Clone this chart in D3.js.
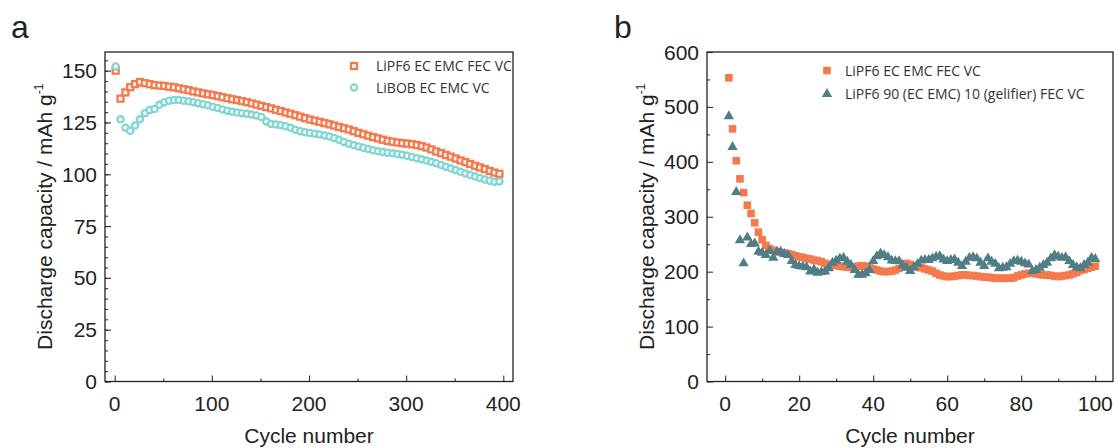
<!DOCTYPE html>
<html>
<head>
<meta charset="utf-8">
<script src="https://cdn.jsdelivr.net/npm/d3@7"></script>
<style>
  body { margin: 0; background: #fff; }
  svg text { font-family: "Liberation Sans", Arial, sans-serif; fill: #222; }
  .leg { font-family: "Open Sans", "Noto Sans", sans-serif; font-size: 14px; fill: #333; }
</style>
</head>
<body>
<svg id="chart" width="1117" height="448"></svg>
<script>
// panel a: cycles 1..396 every 5
var cyclesA = [1,6,11,16,21,26,31,36,41,46,51,56,61,66,71,76,81,86,91,96,
  101,106,111,116,121,126,131,136,141,146,151,156,161,166,171,176,181,186,191,196,
  201,206,211,216,221,226,231,236,241,246,251,256,261,266,271,276,281,286,291,296,
  301,306,311,316,321,326,331,336,341,346,351,356,361,366,371,376,381,386,391,396];

var lipf6A = [150,136.5,139.5,142,143.5,144.5,144,143.5,143,142.8,142.6,142.3,142,141.5,141,140.6,140,139.5,139,138.6,
  138.2,137.7,137.2,136.7,136.2,135.8,135.3,134.8,134.2,133.6,133,132.4,131.8,131.1,130.5,129.8,129.2,128.5,127.8,127.1,
  126.4,125.9,125.3,124.7,124.1,123.5,122.8,122.2,121.6,120.8,120,119.3,118.6,117.9,117.3,116.7,116.1,115.7,115.3,115,
  114.8,114.5,114.1,113.6,112.9,112,111,110.2,109.3,108.5,107.6,106.7,105.9,105,104.1,103.3,102.5,101.6,100.8,100.2];

var libobA = [152,126.5,122.5,121,123.5,126.5,129.5,131,131.5,133.5,134.8,135.5,135.8,135.8,135.5,135.2,134.8,134.3,133.8,133.3,
  132.6,132,131.3,130.7,130.2,129.8,129.5,129.2,128.8,128.4,127.6,125.5,124.3,124,123.7,123.2,122.4,121.5,120.8,120.3,
  119.9,119.6,119.2,118.7,118.2,117.5,116.6,115.6,114.7,114,113.4,112.8,112.2,111.6,111.1,110.7,110.4,110.1,109.8,109.4,
  108.9,108.3,107.7,107.2,106.6,106,105.3,104.5,103.6,102.8,102,101.2,100.4,99.6,98.9,98.2,97.5,96.9,96.4,96.5];

// panel b: cycles 1..100
var cyclesB = [1,2,3,4,5,6,7,8,9,10,11,12,13,14,15,16,17,18,19,20,
  21,22,23,24,25,26,27,28,29,30,31,32,33,34,35,36,37,38,39,40,
  41,42,43,44,45,46,47,48,49,50,51,52,53,54,55,56,57,58,59,60,
  61,62,63,64,65,66,67,68,69,70,71,72,73,74,75,76,77,78,79,80,
  81,82,83,84,85,86,87,88,89,90,91,92,93,94,95,96,97,98,99,100];

var lipf6B = [553,460,402,369,344,321,306,289,272,258,248,242,239,236,235,234,233,231,229,227,
  226,224,223,221,220,218,215,213,212,211,210,209,208,208,209,210,211,210,207,205,
  203,201,200,200,201,203,206,211,215,213,210,208,207,205,203,201,197,194,192,191,
  191,192,193,194,194,193,193,192,191,190,190,189,188,188,188,188,188,189,192,194,
  196,197,197,196,195,194,194,193,192,191,192,193,194,196,199,202,204,206,208,210];

var gelB = [485,429,347,259,217,264,252,253,238,236,232,240,227,238,238,234,232,221,214,212,
  211,210,202,206,200,201,202,208,218,222,226,227,220,214,205,196,196,199,205,221,
  230,235,232,228,222,221,221,213,209,203,210,216,222,223,223,226,229,230,224,221,
  223,224,218,212,220,227,228,226,218,212,226,220,216,208,209,210,216,221,222,220,
  217,215,203,205,209,214,218,226,232,229,227,228,221,214,210,208,214,218,227,225];

var ticksAx = [0,100,200,300,400], ticksAy = [0,25,50,75,100,125,150];
var ticksBx = [0,20,40,60,80,100], ticksBy = [0,100,200,300,400,500,600];

var orange = "#f47a4e", cyan = "#82d6d1", teal = "#4f7e86";

var svg = d3.select("#chart");

function panel(o) {
  var x = d3.scaleLinear().domain(o.xd).range([o.left, o.right]);
  var y = d3.scaleLinear().domain(o.yd).range([o.bottom, o.top]);
  var g = svg.append("g");

  // inward ticks, minor and major
  g.append("g").attr("transform", "translate(0," + o.bottom + ")")
    .call(d3.axisTop(x).tickValues(o.xMinor).tickSize(3).tickFormat(""));
  g.append("g").attr("transform", "translate(0," + o.bottom + ")")
    .call(d3.axisTop(x).tickValues(o.xt).tickSize(6).tickFormat(""));
  g.append("g").attr("transform", "translate(" + o.left + ",0)")
    .call(d3.axisRight(y).tickValues(o.yMinor).tickSize(3).tickFormat(""));
  g.append("g").attr("transform", "translate(" + o.left + ",0)")
    .call(d3.axisRight(y).tickValues(o.yt).tickSize(6).tickFormat(""));
  g.selectAll(".domain").remove();
  g.selectAll(".tick line").attr("stroke", "#333").attr("stroke-width", 1.1);

  g.append("rect").attr("x", o.left).attr("y", o.top)
    .attr("width", o.right - o.left).attr("height", o.bottom - o.top)
    .attr("fill", "none").attr("stroke", "#222").attr("stroke-width", 1.3);

  g.selectAll(".xl").data(o.xt).enter().append("text")
    .attr("x", function(d) { return x(d); }).attr("y", o.bottom + 29)
    .attr("text-anchor", "middle").style("font-size", "21px").text(function(d) { return d; });
  g.selectAll(".yl").data(o.yt).enter().append("text")
    .attr("x", o.left - 8).attr("y", function(d) { return y(d) + 7.5; })
    .attr("text-anchor", "end").style("font-size", "21px").text(function(d) { return d; });

  g.append("text").attr("x", (o.left + o.right) / 2).attr("y", 443)
    .attr("text-anchor", "middle").style("font-size", "21px").text("Cycle number");

  var yt = g.append("text")
    .attr("transform", "translate(" + o.yTitleX + "," + ((o.top + o.bottom) / 2) + ") rotate(-90)")
    .attr("text-anchor", "middle").style("font-size", "21px");
  yt.append("tspan").text("Discharge capacity / mAh g");
  yt.append("tspan").attr("dy", -9).style("font-size", "12px").text("-1");

  g.append("text").attr("x", o.labelX).attr("y", 38).style("font-size", "32px").text(o.label);

  return {g: g, x: x, y: y};
}

// ---- panel a
var pa = panel({left: 105, right: 513, top: 52, bottom: 381.5,
  xd: [-10, 410], yd: [0, 159], xt: ticksAx, yt: ticksAy,
  xMinor: [50,150,250,350], yMinor: d3.range(0, 156, 5),
  yTitleX: 52, labelX: 11, label: "a"});

pa.g.selectAll(".sqA").data(cyclesA).enter().append("rect")
  .attr("x", function(d) { return pa.x(d) - 3; })
  .attr("y", function(d, i) { return pa.y(lipf6A[i]) - 3; })
  .attr("width", 6).attr("height", 6)
  .attr("fill", "#fff").attr("stroke", orange).attr("stroke-width", 2.3);

pa.g.selectAll(".ciA").data(cyclesA).enter().append("circle")
  .attr("cx", function(d) { return pa.x(d); })
  .attr("cy", function(d, i) { return pa.y(libobA[i]); })
  .attr("r", 3.1)
  .attr("fill", "#fff").attr("stroke", cyan).attr("stroke-width", 2.3);

// legend a
pa.g.append("rect").attr("x", 351).attr("y", 63).attr("width", 6).attr("height", 6)
  .attr("fill", "#fff").attr("stroke", orange).attr("stroke-width", 2.3);
pa.g.append("text").attr("class", "leg").attr("x", 376).attr("y", 71).text("LiPF6 EC EMC FEC VC");
pa.g.append("circle").attr("cx", 354).attr("cy", 87.5).attr("r", 3.1)
  .attr("fill", "#fff").attr("stroke", cyan).attr("stroke-width", 2.3);
pa.g.append("text").attr("class", "leg").attr("x", 376).attr("y", 92.5).text("LiBOB EC EMC VC");

// ---- panel b
var pb = panel({left: 707, right: 1113, top: 52, bottom: 381.5,
  xd: [-4.9, 104.8], yd: [0, 600], xt: ticksBx, yt: ticksBy,
  xMinor: [10,30,50,70,90], yMinor: [50,150,250,350,450,550],
  yTitleX: 654, labelX: 614, label: "b"});

var tri = d3.symbol().type(d3.symbolTriangle).size(46);

pb.g.selectAll(".sqB").data(cyclesB).enter().append("rect")
  .attr("x", function(d) { return pb.x(d) - 3.8; })
  .attr("y", function(d, i) { return pb.y(lipf6B[i]) - 3.8; })
  .attr("width", 7.6).attr("height", 7.6).attr("fill", orange);

pb.g.selectAll(".trB").data(cyclesB).enter().append("path")
  .attr("d", tri)
  .attr("transform", function(d, i) { return "translate(" + pb.x(d) + "," + (pb.y(gelB[i]) + 1) + ")"; })
  .attr("fill", teal);

// legend b
pb.g.append("rect").attr("x", 823.2).attr("y", 66.7).attr("width", 7.6).attr("height", 7.6).attr("fill", orange);
pb.g.append("text").attr("class", "leg").attr("x", 845).attr("y", 75.5).text("LiPF6 EC EMC FEC VC");
pb.g.append("path").attr("d", tri).attr("transform", "translate(827,94)").attr("fill", teal);
pb.g.append("text").attr("class", "leg").attr("x", 845).attr("y", 98.5).text("LiPF6 90 (EC EMC) 10 (gelifier) FEC VC");
</script>
</body>
</html>
